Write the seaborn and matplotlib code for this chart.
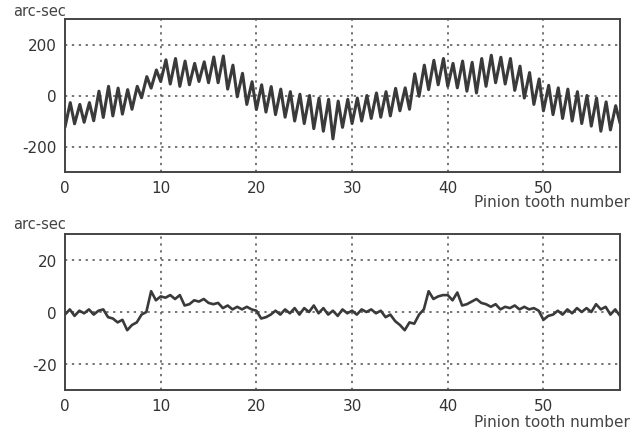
import numpy as np
import pandas as pd
import matplotlib
matplotlib.use("Agg")
import matplotlib.pyplot as plt
import seaborn as sns

# ---------------- data ----------------
# Top panel: troughs at integer tooth numbers 0..58, peaks between them
top_troughs = [-124, -111, -105, -99, -86, -80, -73, -54, -9, 29,
               55, 45, 36, 42, 55, 50, 50, 25, -5, -35,
               -55, -65, -75, -85, -100, -110, -130, -140, -170, -125,
               -110, -100, -90, -85, -80, -60, -54, -3, 23, 42,
               36, 30, 17, 10, 36, 50, 45, 20, -10, -35,
               -60, -75, -90, -100, -110, -120, -140, -135, -108]
top_peaks = [-28, -35, -28, 17, 36, 29, 23, 36, 74, 100,
             140, 145, 135, 126, 132, 151, 155, 119, 87, 54,
             42, 35, 25, 15, 5, 0, -10, -15, -22, -15,
             -10, 0, 10, 15, 28, 30, 85, 119, 138, 145,
             126, 135, 130, 145, 158, 150, 145, 115, 90, 65,
             40, 30, 25, 15, 0, -10, -25, -40]
trough_teeth = np.arange(0, 59)
peak_teeth = np.arange(0, 58) + 0.55

# Bottom panel: values every half tooth, 0 .. 58
bottom_values = [-1, 1, -1.5, 0.5, -0.5, 1, -1, 0.5, 1, -2,
                 -2.5, -4, -3, -7, -5, -4, -1, 0, 8, 4.5,
                 6, 5.5, 6.5, 5, 6.5, 2.5, 3, 4.5, 4, 5,
                 3.5, 3, 3.5, 1.5, 2.5, 1, 2, 1, 2, 1,
                 0.5, -2.5, -2, -1, 0.5, -1, 1, -0.5, 1.5, -1,
                 1.5, 0, 2.5, -0.5, 1.5, -1, 0.5, -1.5, 1, -0.5,
                 0.5, -1, 1, 0, 1, -0.5, 0.5, -2, -1, -3.5,
                 -5, -7, -4, -4.5, -1, 1, 8, 5, 6, 6.5,
                 6.5, 4.5, 7.5, 2.5, 3, 4, 5, 3.5, 3, 2,
                 3, 1, 2, 1.5, 2.5, 1, 2, 1, 1.5, 0.5,
                 -3, -1.5, -1, 0.5, -1, 1, -0.5, 1.5, 0, 1.5,
                 0, 3, 1, 2, -1, 1, -1.5]
bottom_teeth = np.arange(0, 117) * 0.5

x_ticks = [0, 10, 20, 30, 40, 50]
top_yticks = [-200, 0, 200]
bottom_yticks = [-20, 0, 20]
y_unit = "arc-sec"
x_label = "Pinion tooth number"

# ---------------- build tables ----------------
top_df = pd.DataFrame({
    "tooth": np.concatenate([trough_teeth, peak_teeth]),
    "value": np.concatenate([top_troughs, top_peaks]),
}).sort_values("tooth")
bottom_df = pd.DataFrame({"tooth": bottom_teeth, "value": bottom_values})

# ---------------- style ----------------
sns.set_style("white")
plt.rcParams["font.family"] = ["DejaVu Sans"]
plt.rcParams["axes.unicode_minus"] = False

W, H = 634, 435
fig = plt.figure(figsize=(W / 100, H / 100), dpi=100)
ax1 = fig.add_axes([65 / W, 1 - 173 / H, 555 / W, 153 / H])
ax2 = fig.add_axes([65 / W, 1 - 391 / H, 555 / W, 156 / H])

line_color = "#3a3a3a"
grid_kw = dict(color="#505050", linestyle=(0, (1.5, 3)), linewidth=1.1)

panels = [
    (ax1, top_df, (-300, 300), top_yticks, 2.2, 12, 203),
    (ax2, bottom_df, (-30, 30), bottom_yticks, 1.9, 225, 423),
]
for ax, df, ylim, yt, lw, unit_y, lab_y in panels:
    sns.lineplot(data=df, x="tooth", y="value", ax=ax, color=line_color,
                 linewidth=lw, sort=False, estimator=None)
    ax.set_xlim(0, 58)
    ax.set_ylim(*ylim)
    ax.set_xticks(x_ticks)
    ax.set_yticks(yt)
    ax.grid(True, **grid_kw)
    ax.set_xlabel("")
    ax.set_ylabel("")
    ax.tick_params(axis="both", which="both", length=0, labelsize=11,
                   colors="#333333", pad=6)
    for sp in ax.spines.values():
        sp.set_color("#444444")
        sp.set_linewidth(1.4)
    fig.text(13 / W, 1 - unit_y / H, y_unit, ha="left", va="center",
             fontsize=10.5, color="#444444")
    fig.text(630 / W, 1 - lab_y / H, x_label, ha="right", va="center",
             fontsize=11, color="#444444")

fig.savefig("out.png", dpi=100, facecolor="white")
